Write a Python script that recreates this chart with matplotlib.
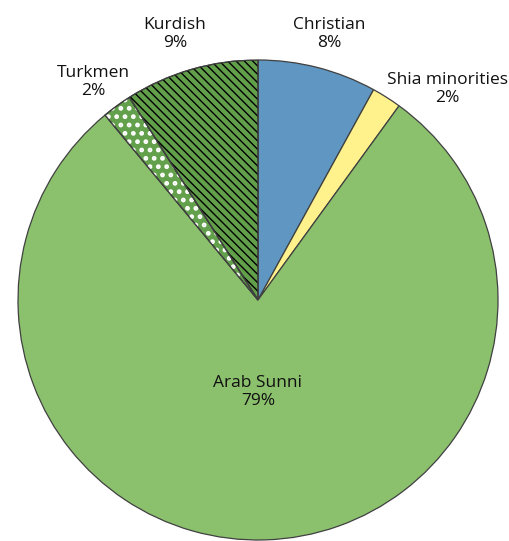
import matplotlib

matplotlib.use("Agg")
import matplotlib.pyplot as plt
from matplotlib.patches import Wedge

# Data, clockwise from 12 o'clock
groups = ["Christian", "Shia minorities", "Arab Sunni", "Turkmen", "Kurdish"]
shares = [8, 2, 79, 2, 9]
colors = ["#5f96c2", "#fff28c", "#8bc16d", "#62a04b", "#629f4a"]
hatches = [None, None, None, "..", "\\" * 4]
hatch_colors = [None, None, None, "white", "black"]
hatch_widths = [None, None, None, 2.2, 1.0]

# label anchor points in data units (pie radius = 1)
label_pos = {
    "Christian": (0.296, 1.108),
    "Shia minorities": (0.79, 0.879),
    "Arab Sunni": (0.0, -0.383),
    "Turkmen": (-0.6875, 0.908),
    "Kurdish": (-0.346, 1.108),
}

plt.rcParams["font.family"] = ["Open Sans", "DejaVu Sans"]

fig = plt.figure(figsize=(5.10, 5.41), dpi=100)
ax = fig.add_axes([18 / 510, 1 / 541, 480 / 510, 480 / 541])

wedges, _ = ax.pie(
    shares,
    colors=colors,
    startangle=90,
    counterclock=False,
    radius=1,
    wedgeprops=dict(edgecolor="#404040", linewidth=0.9),
)

# hatch overlays, drawn separately so the outline stays dark
for w, h, hc, hw in zip(wedges, hatches, hatch_colors, hatch_widths):
    if h is None:
        continue
    with plt.rc_context({"hatch.linewidth": hw}):
        ax.add_patch(
            Wedge(
                w.center, w.r, w.theta1, w.theta2,
                facecolor="none", edgecolor=hc, hatch=h, linewidth=0,
            )
        )
    ax.add_patch(
        Wedge(
            w.center, w.r, w.theta1, w.theta2,
            facecolor="none", edgecolor="#404040", linewidth=0.9,
        )
    )

for g, s in zip(groups, shares):
    x, y = label_pos[g]
    ax.text(x, y, f"{g}\n{s}%", ha="center", va="center", fontsize=12.5,
            color="#111111", linespacing=1.2, clip_on=False)

ax.set_xlim(-1, 1)
ax.set_ylim(-1, 1)
ax.set_aspect("equal")
ax.axis("off")

fig.savefig("out.png", dpi=100)
